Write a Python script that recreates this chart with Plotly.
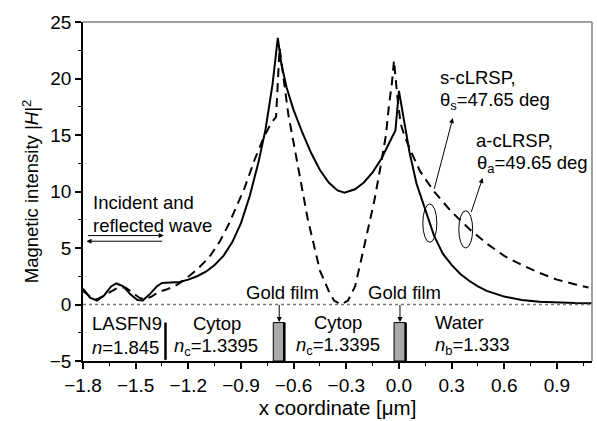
import plotly.graph_objects as go

# s-cLRSP (solid)
s_x = [-1.80, -1.76, -1.72, -1.68, -1.64, -1.61, -1.57, -1.53, -1.49, -1.46, -1.42, -1.38, -1.35,
       -1.30, -1.25, -1.20, -1.15, -1.10, -1.05, -1.00, -0.95, -0.90, -0.85, -0.80, -0.76, -0.72,
       -0.69, -0.67, -0.64, -0.60, -0.55, -0.50, -0.45, -0.40, -0.35, -0.31, -0.25, -0.20, -0.15,
       -0.10, -0.05, -0.02, 0.00, 0.03, 0.06, 0.10, 0.15, 0.20, 0.25, 0.30, 0.35, 0.40, 0.45,
       0.50, 0.60, 0.70, 0.80, 0.90, 1.00, 1.10]
s_y = [1.4, 0.6, 0.35, 0.8, 1.6, 1.86, 1.6, 0.9, 0.4, 0.35, 0.9, 1.6, 1.9,
       1.95, 2.0, 2.2, 2.5, 2.9, 3.5, 4.3, 5.5, 7.2, 9.6, 12.6, 15.5, 19.5,
       23.6, 21.3, 19.2, 17.2, 15.2, 13.4, 11.9, 10.8, 10.1, 9.9, 10.2, 10.8, 11.7,
       12.9, 14.4, 15.4, 18.9, 16.0, 13.5, 10.7, 8.3, 6.1, 4.5, 3.5, 2.7, 2.1, 1.6,
       1.2, 0.7, 0.4, 0.25, 0.18, 0.14, 0.12]

# a-cLRSP (dashed)
a_x = [-1.80, -1.76, -1.72, -1.68, -1.64, -1.60, -1.56, -1.52, -1.48, -1.45, -1.41, -1.37, -1.33,
       -1.28, -1.22, -1.15, -1.08, -1.02, -0.97, -0.92, -0.88, -0.82, -0.77, -0.73, -0.70,
       -0.68, -0.66, -0.63, -0.60, -0.57, -0.52, -0.45, -0.40, -0.37, -0.33, -0.29, -0.25,
       -0.216, -0.16, -0.14, -0.10, -0.074, -0.057, -0.04, -0.028, -0.01, 0.01, 0.03, 0.07,
       0.12, 0.20, 0.30, 0.40, 0.50, 0.60, 0.70, 0.80, 0.90, 1.00, 1.08]
a_y = [1.2, 0.7, 0.45, 0.8, 1.2, 1.5, 1.5, 1.1, 0.6, 0.45, 0.7, 1.1, 1.3,
       1.6, 2.2, 3.1, 4.2, 5.6, 7.1, 8.9, 10.3, 12.9, 14.8, 16.0, 16.6,
       22.7, 20.5, 16.8, 14.3, 11.9, 7.6, 3.0, 1.2, 0.35, 0.0, 0.35, 1.6,
       3.9, 7.7, 9.2, 12.6, 15.0, 17.6, 19.6, 21.6, 18.5, 16.0, 15.0, 13.5,
       11.8, 10.0, 8.2, 6.7, 5.4, 4.3, 3.5, 2.8, 2.2, 1.8, 1.5]

x_ticks = [-1.8, -1.5, -1.2, -0.9, -0.6, -0.3, 0.0, 0.3, 0.6, 0.9]
y_ticks = [-5, 0, 5, 10, 15, 20, 25]

FONT = "Arial, Liberation Sans, sans-serif"
FS = 18.5

fig = go.Figure()
fig.add_trace(go.Scatter(x=s_x, y=s_y, mode="lines", line=dict(color="black", width=2)))
fig.add_trace(go.Scatter(x=a_x, y=a_y, mode="lines",
                         line=dict(color="black", width=2, dash="9px,6px")))

shapes = []
# zero dotted line
shapes.append(dict(type="line", xref="x", yref="y", x0=-1.8, x1=1.1, y0=0, y1=0,
                   line=dict(color="#777", width=1.3, dash="dot")))
# frame top/right
shapes.append(dict(type="line", xref="paper", yref="paper", x0=0, x1=1, y0=1, y1=1,
                   line=dict(color="#808080", width=1.5)))
shapes.append(dict(type="line", xref="paper", yref="paper", x0=1, x1=1, y0=0, y1=1,
                   line=dict(color="#808080", width=1.5)))
# LASFN9/Cytop boundary
shapes.append(dict(type="line", xref="x", yref="y", x0=-1.33, x1=-1.33, y0=-1.6, y1=-4.9,
                   line=dict(color="black", width=2.5)))
# gold films
for gx0, gx1 in [(-0.716, -0.653), (-0.028, 0.038)]:
    shapes.append(dict(type="rect", xref="x", yref="y", x0=gx0, x1=gx1, y0=-1.6, y1=-5,
                       fillcolor="#aaaaaa", line=dict(color="black", width=1)))
    shapes.append(dict(type="line", xref="x", yref="y", x0=gx1, x1=gx1, y0=-1.6, y1=-5,
                       line=dict(color="black", width=2.5)))
# ellipses
shapes.append(dict(type="circle", xref="x", yref="y", x0=0.136, x1=0.216, y0=5.5, y1=8.9,
                   line=dict(color="black", width=1)))
shapes.append(dict(type="circle", xref="x", yref="y", x0=0.341, x1=0.42, y0=5.0, y1=8.3,
                   line=dict(color="black", width=1)))

ann = []
def txt(x, y, t, xa="left"):
    ann.append(dict(x=x, y=y, xref="x", yref="y", text=t, showarrow=False, xanchor=xa,
                    yanchor="middle", font=dict(family=FONT, size=FS, color="black")))

def arrow(x, y, ax, ay, w=1):
    ann.append(dict(x=x, y=y, ax=ax, ay=ay, xref="x", yref="y", axref="x", ayref="y",
                    text="", showarrow=True, arrowhead=2, arrowsize=1, arrowwidth=w,
                    arrowcolor="black"))

txt(-1.756, 9.0, "Incident and")
txt(-1.756, 7.0, "reflected wave")
arrow(-1.34, 6.1, -1.78, 6.1)
arrow(-1.78, 5.6, -1.34, 5.6)
txt(0.222, 20.1, "s-cLRSP,")
txt(0.225, 18.0, "θ<sub>s</sub>=47.65 deg")
txt(0.43, 14.5, "a-cLRSP,")
txt(0.435, 12.4, "θ<sub>a</sub>=49.65 deg")
arrow(0.307, 16.5, 0.199, 10.1)
arrow(0.477, 11.2, 0.409, 8.05)
txt(-1.762, -1.7, "LASFN9")
txt(-1.762, -3.8, "<i>n</i>=1.845")
txt(-1.034, -1.7, "Cytop", "center")
txt(-1.04, -3.8, "<i>n</i><sub>c</sub>=1.3395", "center")
txt(-0.665, 1.06, "Gold film", "center")
arrow(-0.682, -1.55, -0.682, 0.1)
txt(0.034, 1.06, "Gold film", "center")
arrow(0.006, -1.55, 0.006, 0.1)
txt(-0.347, -1.6, "Cytop", "center")
txt(-0.347, -3.7, "<i>n</i><sub>c</sub>=1.3395", "center")
txt(0.195, -1.6, "Water")
txt(0.195, -3.7, "<i>n</i><sub>b</sub>=1.333")

fig.update_layout(
    width=597, height=421,
    margin=dict(l=83, r=5, t=22, b=60),
    paper_bgcolor="white", plot_bgcolor="white",
    showlegend=False,
    font=dict(family=FONT, size=FS, color="black"),
    shapes=shapes, annotations=ann,
    xaxis=dict(range=[-1.8, 1.1], tickvals=x_ticks, tickformat=".1f",
               showgrid=False, zeroline=False, showline=True, linecolor="black", linewidth=1.5,
               ticks="outside", ticklen=6, tickwidth=1.5, tickcolor="black",
               tickfont=dict(family=FONT, size=19),
               minor=dict(dtick=0.15, tick0=-1.8, ticks="outside", ticklen=3, tickwidth=1.2,
                          tickcolor="black"),
               title=dict(text="x coordinate [μm]", standoff=5,
                          font=dict(family=FONT, size=20.5))),
    yaxis=dict(range=[-5, 25], tickvals=y_ticks,
               showgrid=False, zeroline=False, showline=True, linecolor="black", linewidth=1.5,
               ticks="outside", ticklen=6, tickwidth=1.5, tickcolor="black",
               tickfont=dict(family=FONT, size=19),
               minor=dict(dtick=2.5, tick0=-5, ticks="outside", ticklen=3, tickwidth=1.2,
                          tickcolor="black"),
               title=dict(text="Magnetic intensity |<i>H</i>|<sup>2</sup>", standoff=6,
                          font=dict(family=FONT, size=FS))),
)

fig.write_html("out.html")
